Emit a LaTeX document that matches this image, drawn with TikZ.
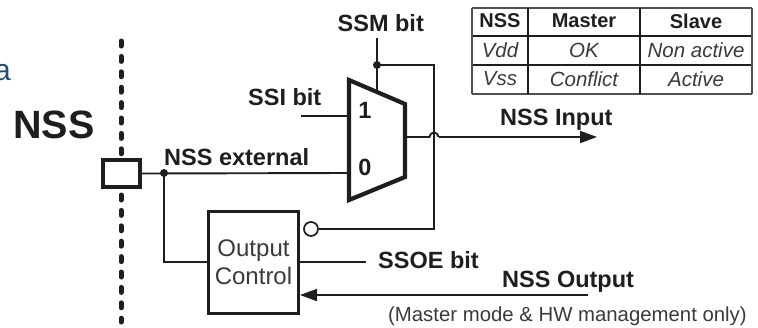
\documentclass[tikz,border=0pt]{standalone}
\usepackage{fontspec}
\setmainfont{Liberation Sans}
\usetikzlibrary{arrows.meta}
\definecolor{ink}{HTML}{1E1E1E}
\definecolor{soft}{HTML}{3A3A3A}
\definecolor{grid}{HTML}{505050}
\definecolor{fragblue}{HTML}{1F4E79}
\tikzset{
  lbl/.style={inner sep=0pt,text=ink,font=\fontsize{23.5}{26}\selectfont\bfseries},
  wire/.style={draw=ink,line width=1.9pt,line cap=butt},
  heavy/.style={draw=ink,line join=miter},
  jdot/.style={circle,fill=ink,minimum size=8pt,inner sep=0pt},
  head/.style={inner sep=0pt,text=ink,font=\fontsize{20}{22}\selectfont\bfseries},
  cell/.style={inner sep=0pt,text=soft,font=\fontsize{20.5}{22}\selectfont\itshape},
  tick/.style={draw=grid,line width=1.6pt},
  tickb/.style={draw=ink,line width=2.1pt},
  arr/.style={-{Triangle[length=17pt,width=12pt]}}
}
\begin{document}
\begin{tikzpicture}[x=1pt,y=-1pt]
\useasboundingbox (0,0) rectangle (758,327);
% clipped blue letter and NSS title
\node[anchor=base east,inner sep=0pt,text=fragblue,font=\fontsize{30}{32}\selectfont] (frag) at (11,80) {a};
\node[anchor=base west,inner sep=0pt,text=ink,font=\fontsize{39.5}{41}\selectfont\bfseries] (nsst) at (13,138) {NSS};
% dotted pad line
\coordinate (dTop) at (121,41);
\coordinate (dBot) at (121,322);
\draw[draw=ink,line width=5pt,line cap=round,dash pattern=on 5pt off 10.4pt] (dTop) -- (dBot);
% pad
\node[draw=ink,line width=4pt,fill=white,minimum width=37pt,minimum height=27pt,inner sep=0pt] (pad) at (121.5,173.5) {};
% output control
\node[draw=ink,line width=3pt,fill=white,minimum width=90pt,minimum height=102pt,inner sep=0pt,align=center,text=soft,font=\fontsize{24}{28}\selectfont] (oc) at (253.5,262.5) {Output\\Control};
% mux
\coordinate (m1) at (349,80);
\coordinate (m2) at (405,104);
\coordinate (m3) at (405,177);
\coordinate (m4) at (349,200);
\coordinate (in1) at (349,116);
\coordinate (in0) at (349,173);
\coordinate (sel) at (377,92);
\coordinate (out) at (405,137);
% labels
\node[lbl,anchor=base west] (ssm) at (337.5,31) {SSM bit};
\node[lbl,anchor=base west] (ssi) at (248,105) {SSI bit};
\node[lbl,anchor=base west] (ext) at (164,165) {NSS external};
\node[lbl,anchor=base west] (inp) at (500,125) {NSS Input};
\node[lbl,anchor=base west] (ssoe) at (378,268) {SSOE bit};
\node[lbl,anchor=base west] (outp) at (502,287) {NSS Output};
\node[anchor=base west,inner sep=0pt,text=soft,font=\fontsize{20.35}{22}\selectfont] (note) at (388,321) {(Master mode \& HW management only)};
% wires
\coordinate (ssmTop) at (377,38);
\coordinate (ssmJ) at (377,65);
\coordinate (cr) at (434,65);
\coordinate (hopA) at (429.5,137);
\coordinate (hopB) at (438.5,137);
\coordinate (arrEnd) at (597,137);
\coordinate (extJ) at (164,173);
\coordinate (ssiL) at (301,116);
\coordinate (ssoeE) at (366,262);
\coordinate (oEnd) at (588,295);
\node[draw=ink,line width=1.7pt,fill=white,circle,minimum size=14pt,inner sep=0pt] (bub) at (311,229) {};
\draw[wire] (ssmTop) -- (sel);
\draw[wire] (ssmJ) -- (cr) |- (bub.east);
\draw[wire] (out) -- (hopA) arc[start angle=180,end angle=0,radius=4.5pt] -- (hopB);
\draw[wire,arr] (hopB) -- (arrEnd);
\draw[wire] (ssiL) -- (in1);
\draw[wire] (pad.east) -- (in0);
\draw[wire] (extJ) |- (oc.west |- ssoeE);
\draw[wire] (oc.east |- ssoeE) -- (ssoeE);
\draw[wire,arr] (oEnd) -- (oc.east |- oEnd);
\node[jdot] (j1) at (extJ) {};
\node[jdot] (j2) at (ssmJ) {};
\draw[heavy,fill=white,line width=4.2pt] (m1) -- (m2) -- (m3) -- (m4) -- cycle;
\node[lbl,anchor=center] (one) at (365,110) {1};
\node[lbl,anchor=center] (zero) at (365,167) {0};
% table
\foreach \y in {8,94} \draw[tick] (472,\y) -- (752,\y);
\foreach \y in {36,65} \draw[tickb] (472,\y) -- (752,\y);
\draw[tick] (472,8) -- (472,94);
\draw[tick] (752,8) -- (752,94);
\draw[tickb] (528,8) -- (528,94);
\draw[tickb] (640,8) -- (640,94);
\node[head] (h1) at (500,21) {NSS};
\node[head] (h2) at (584,21) {Master};
\node[head] (h3) at (696,21) {Slave};
\node[cell] (c1) at (500,50) {Vdd};
\node[cell] (c2) at (584,50) {OK};
\node[cell] (c3) at (696,50) {Non active};
\node[cell] (c4) at (500,79) {Vss};
\node[cell] (c5) at (584,79) {Conflict};
\node[cell] (c6) at (696,79) {Active};
\end{tikzpicture}
\end{document}
